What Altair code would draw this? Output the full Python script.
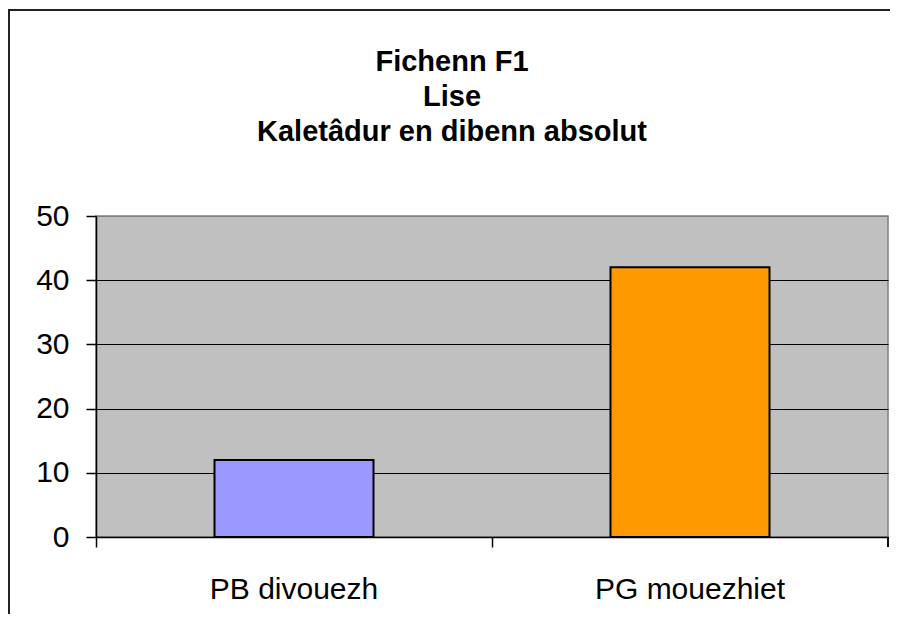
import altair as alt
import pandas as pd

categories = ["PB divouezh", "PG mouezhiet"]
values = [12, 42]
colors = ["#9999FF", "#FF9900"]
title_lines = ["Fichenn F1", "Lise", "Kaletâdur en dibenn absolut"]
y_ticks = [0, 10, 20, 30, 40, 50]

df = pd.DataFrame({"cat": categories, "val": values, "color": colors})

W, H = 792, 321
FONT = "Liberation Sans"

base = alt.Chart(df)

bars = base.mark_bar(size=159, stroke="black", strokeWidth=2).encode(
    x=alt.X(
        "cat:N",
        sort=categories,
        title=None,
        scale=alt.Scale(paddingInner=0, paddingOuter=0),
        axis=alt.Axis(
            bandPosition=0,
            labelAngle=0,
            labelFont=FONT,
            labelFontSize=30,
            labelColor="black",
            labelPadding=27,
            labelLimit=0,
            tickSize=10,
            tickColor="black",
            tickWidth=1.5,
            domainColor="black",
            domainWidth=1.5,
            grid=False,
        ),
    ),
    y=alt.Y(
        "val:Q",
        title=None,
        scale=alt.Scale(domain=[0, 50], nice=False),
        axis=alt.Axis(
            values=y_ticks,
            labelFont=FONT,
            labelFontSize=30,
            labelColor="black",
            labelPadding=17,
            tickSize=10,
            tickColor="black",
            tickWidth=1.5,
            domainColor="black",
            domainWidth=1.5,
            grid=True,
            gridColor={"condition": {"test": "datum.value === 50 || datum.value === 0", "value": "#808080"}, "value": "black"},
            gridWidth=1.2,
        ),
    ),
    color=alt.Color("color:N", scale=None, legend=None),
)

# right-most category boundary tick
end_tick = base.mark_rule(color="black", strokeWidth=1.5).encode(
    x=alt.value(W), y=alt.value(H), y2=alt.value(H + 10)
)

# outer chart frame
frame = base.mark_rect(fill=None, stroke="#222222", strokeWidth=2).encode(
    x=alt.value(-87), x2=alt.value(W + 40),
    y=alt.value(-206), y2=alt.value(H + 120),
)

chart = alt.layer(frame, bars, end_tick).properties(
    width=W,
    height=H,
    autosize=alt.AutoSizeParams(type="none"),
    padding={"left": 88, "top": 208, "right": 2, "bottom": 77},
    background="white",
    title=alt.TitleParams(
        text=title_lines,
        font=FONT,
        fontSize=29,
        fontWeight="bold",
        color="black",
        anchor="middle",
        frame="group",
        dx=-40,
        offset=0,
        dy=138,
        lineHeight=35,
    ),
).configure_view(
    fill="#C0C0C0", stroke="#808080", strokeWidth=1.5
)

chart.save("out.html", embed_options={"renderer": "svg", "actions": False})
